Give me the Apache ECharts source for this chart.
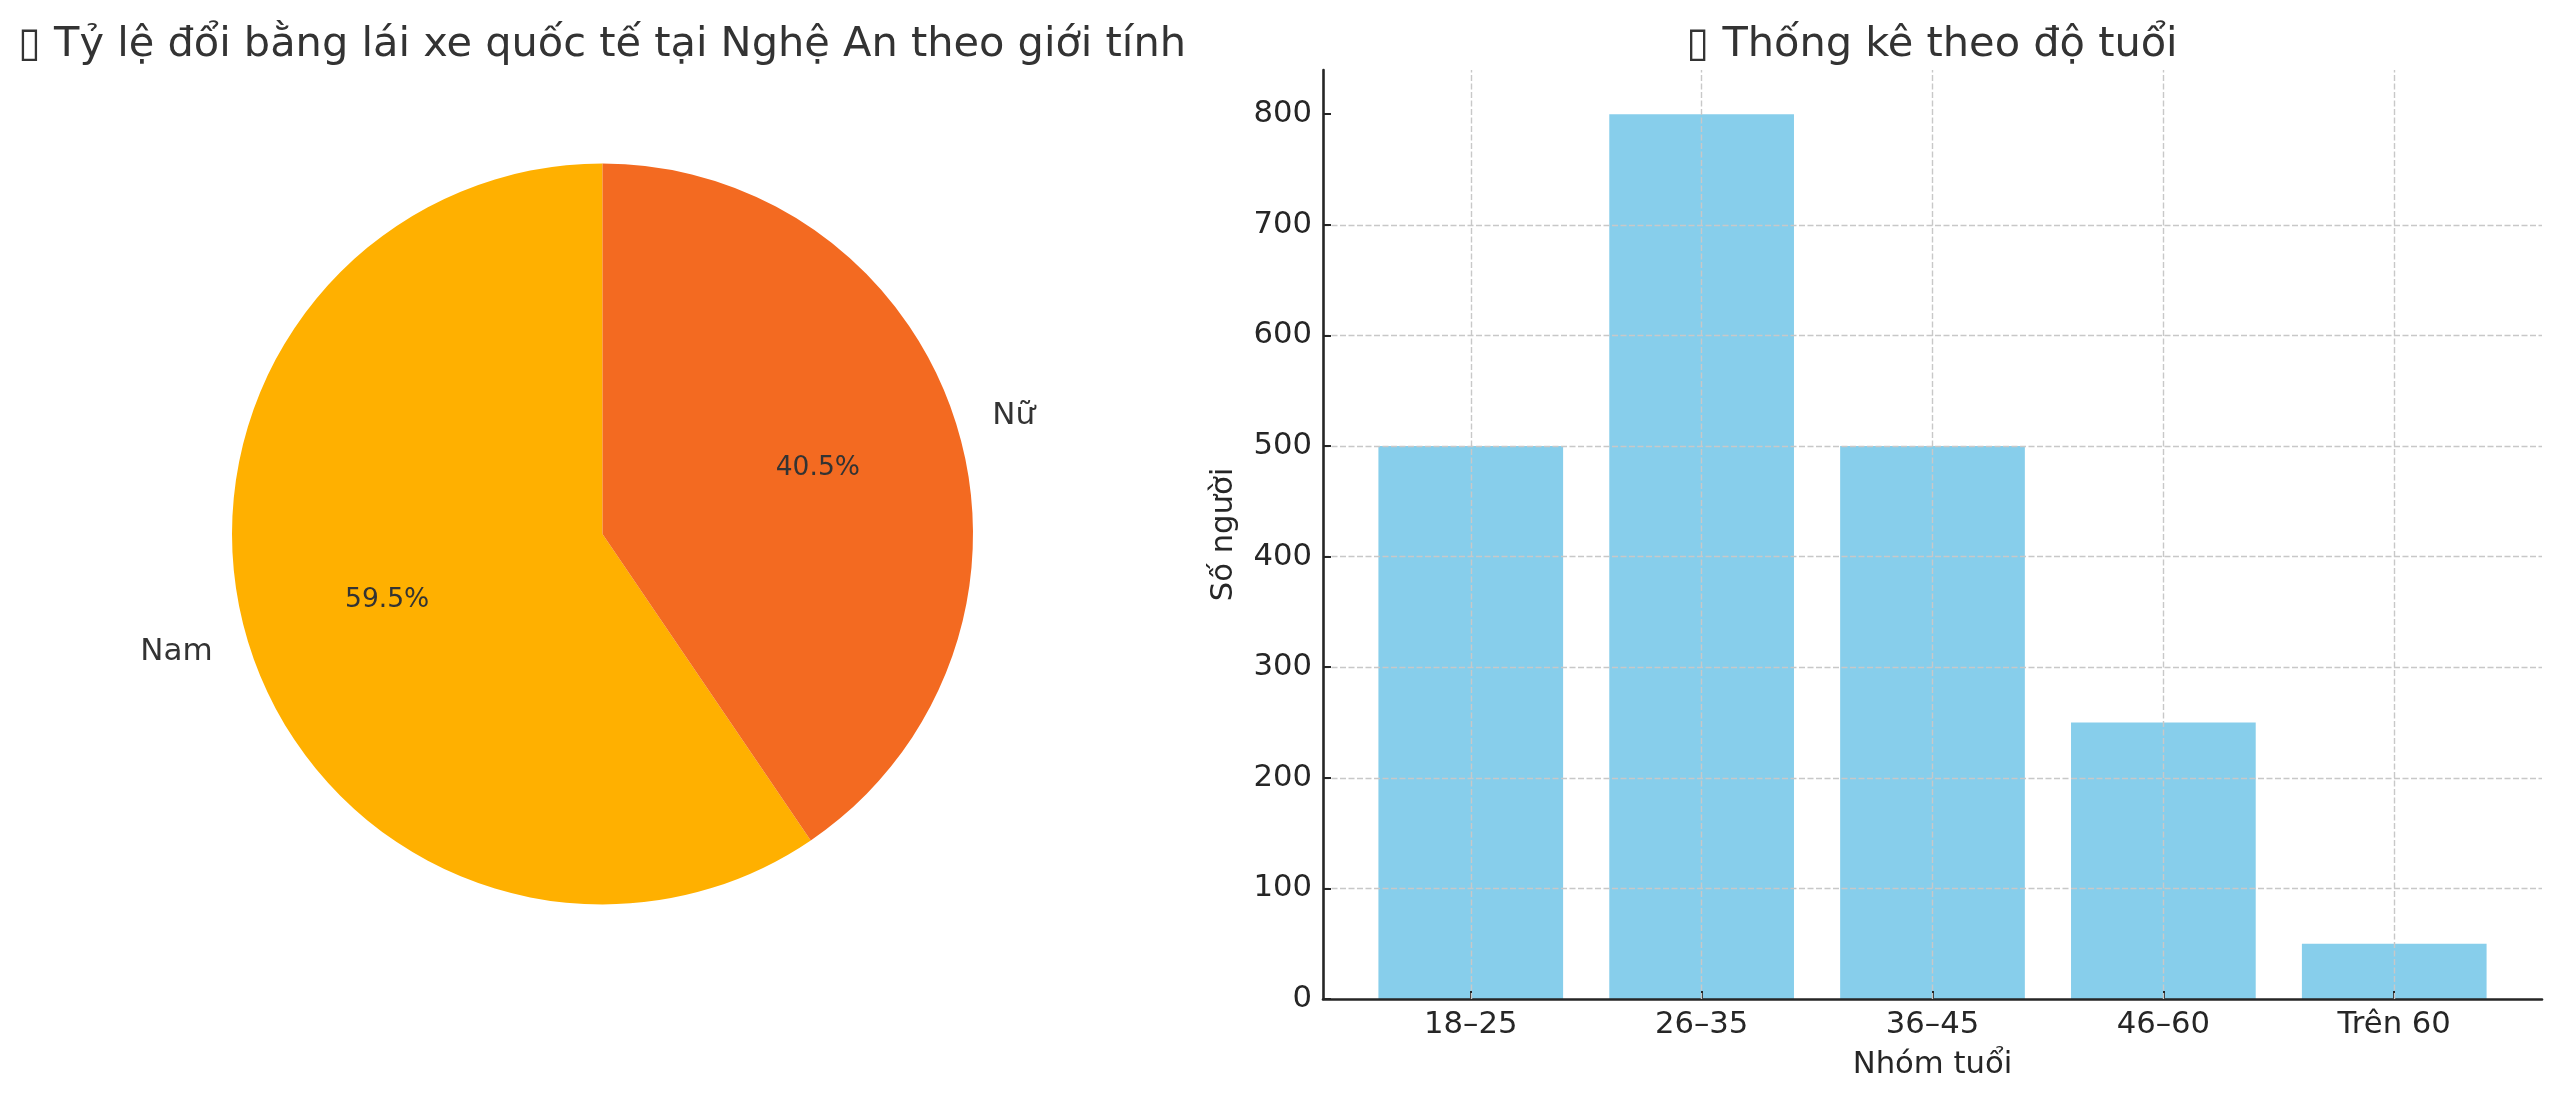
<!DOCTYPE html>
<html>
<head>
<meta charset="utf-8">
<script src="https://cdn.jsdelivr.net/npm/echarts@6/dist/echarts.min.js"></script>
<style>
html,body{margin:0;padding:0;background:#fff;}
#chart{width:2560px;height:1098px;}
</style>
</head>
<body>
<div id="chart"></div>
<script>
// ---- data ----
const pieTitle = '▯ Tỷ lệ đổi bằng lái xe quốc tế tại Nghệ An theo giới tính';
const barTitle = '▯ Thống kê theo độ tuổi';
const genders = ['Nam', 'Nữ'];
const genderShares = [59.5, 40.5];
const genderColors = ['#FFB000', '#F36A21'];
const ageGroups = ['18–25', '26–35', '36–45', '46–60', 'Trên 60'];
const ageCounts = [500, 800, 500, 250, 50];
const yTicks = [0, 100, 200, 300, 400, 500, 600, 700, 800];
const yAxisName = 'Số người';
const xAxisName = 'Nhóm tuổi';

const FONT = 'DejaVu Sans';
const PIE_R = 370.5;
const PIE_C = [602.5, 534];

const pieData = genders.map((g, i) => ({ name: g, value: genderShares[i], itemStyle: { color: genderColors[i] } }));
const pieLabelData = genders.map((g, i) => ({ name: g, value: genderShares[i] }));
const barData = ageGroups.map((c, i) => [i, ageCounts[i]]);

const chart = echarts.init(document.getElementById('chart'), null, { renderer: 'canvas' });
chart.setOption({
  animation: false,
  backgroundColor: '#ffffff',
  title: [
    { text: pieTitle, left: 597, top: 19, textAlign: 'center',
      textStyle: { fontFamily: FONT, fontSize: 41.5, fontWeight: 'normal', color: '#333333' } },
    { text: barTitle, left: 1927, top: 19, textAlign: 'center',
      textStyle: { fontFamily: FONT, fontSize: 41.5, fontWeight: 'normal', color: '#333333' } }
  ],
  grid: { left: 1323, right: 18, top: 70, bottom: 99, containLabel: false },
  xAxis: {
    type: 'value', min: -0.64, max: 4.64, z: 3,
    name: xAxisName, nameLocation: 'middle', nameGap: 51,
    nameTextStyle: { fontFamily: FONT, fontSize: 30.7, color: '#262626' },
    axisLine: { show: true, onZero: false, lineStyle: { color: '#262626', width: 2.6 } },
    axisTick: { show: true, inside: true, length: 8, customValues: ageGroups.map((c, i) => i),
      lineStyle: { color: '#262626', width: 2 } },
    axisLabel: { show: true, margin: 11, customValues: ageGroups.map((c, i) => i),
      formatter: v => ageGroups[Math.round(v)] || '',
      fontFamily: FONT, fontSize: 30.7, color: '#262626' },
    splitLine: { show: false }
  },
  yAxis: {
    type: 'value', min: 0, max: 840, interval: 100, z: 3,
    name: yAxisName, nameLocation: 'middle', nameGap: 83,
    nameTextStyle: { fontFamily: FONT, fontSize: 30.7, color: '#262626' },
    axisLine: { show: true, onZero: false, lineStyle: { color: '#262626', width: 2.6 } },
    axisTick: { show: true, inside: true, length: 8, customValues: yTicks,
      lineStyle: { color: '#262626', width: 2 } },
    axisLabel: { show: true, margin: 11, customValues: yTicks,
      fontFamily: FONT, fontSize: 30.7, color: '#262626', padding: [8, 0, 0, 0] },
    splitLine: { show: true, showMinLine: false, showMaxLine: false,
      lineStyle: { color: '#c8c8c8', width: 1.4, type: [6, 2.5] } }
  },
  series: [
    {
      type: 'pie', center: PIE_C, radius: [0, PIE_R], startAngle: 90, clockwise: false,
      avoidLabelOverlap: false, silent: true,
      itemStyle: { borderWidth: 0 },
      label: { show: true, position: 'outside', formatter: '{b}', distanceToLabelLine: 5,
        fontFamily: FONT, fontSize: 31, color: '#333333', padding: [10, 0, 0, 0] },
      labelLine: { show: false, length: PIE_R * 0.1 - 5, length2: 0 },
      emphasis: { disabled: true },
      data: pieData
    },
    {
      type: 'pie', center: PIE_C, radius: [0, PIE_R * 1.2], startAngle: 90, clockwise: false,
      avoidLabelOverlap: false, silent: true, z: 4,
      itemStyle: { color: 'rgba(0,0,0,0)', borderWidth: 0 },
      label: { show: true, position: 'inside',
        formatter: p => p.percent.toFixed(1) + '%',
        fontFamily: FONT, fontSize: 26.5, color: '#333333', padding: [10, 0, 0, 0] },
      labelLine: { show: false },
      emphasis: { disabled: true },
      data: pieLabelData
    },
    {
      type: 'bar', data: barData, barWidth: '80%',
      itemStyle: { color: '#87CEEB' },
      silent: true,
      markLine: {
        silent: true, symbol: ['none', 'none'], z: 5,
        label: { show: false },
        lineStyle: { color: '#c8c8c8', width: 1.4, type: [6, 2.5] },
        emphasis: { disabled: true },
        data: ageGroups.map((c, i) => ({ xAxis: i }))
      }
    }
  ]
});
</script>
</body>
</html>
